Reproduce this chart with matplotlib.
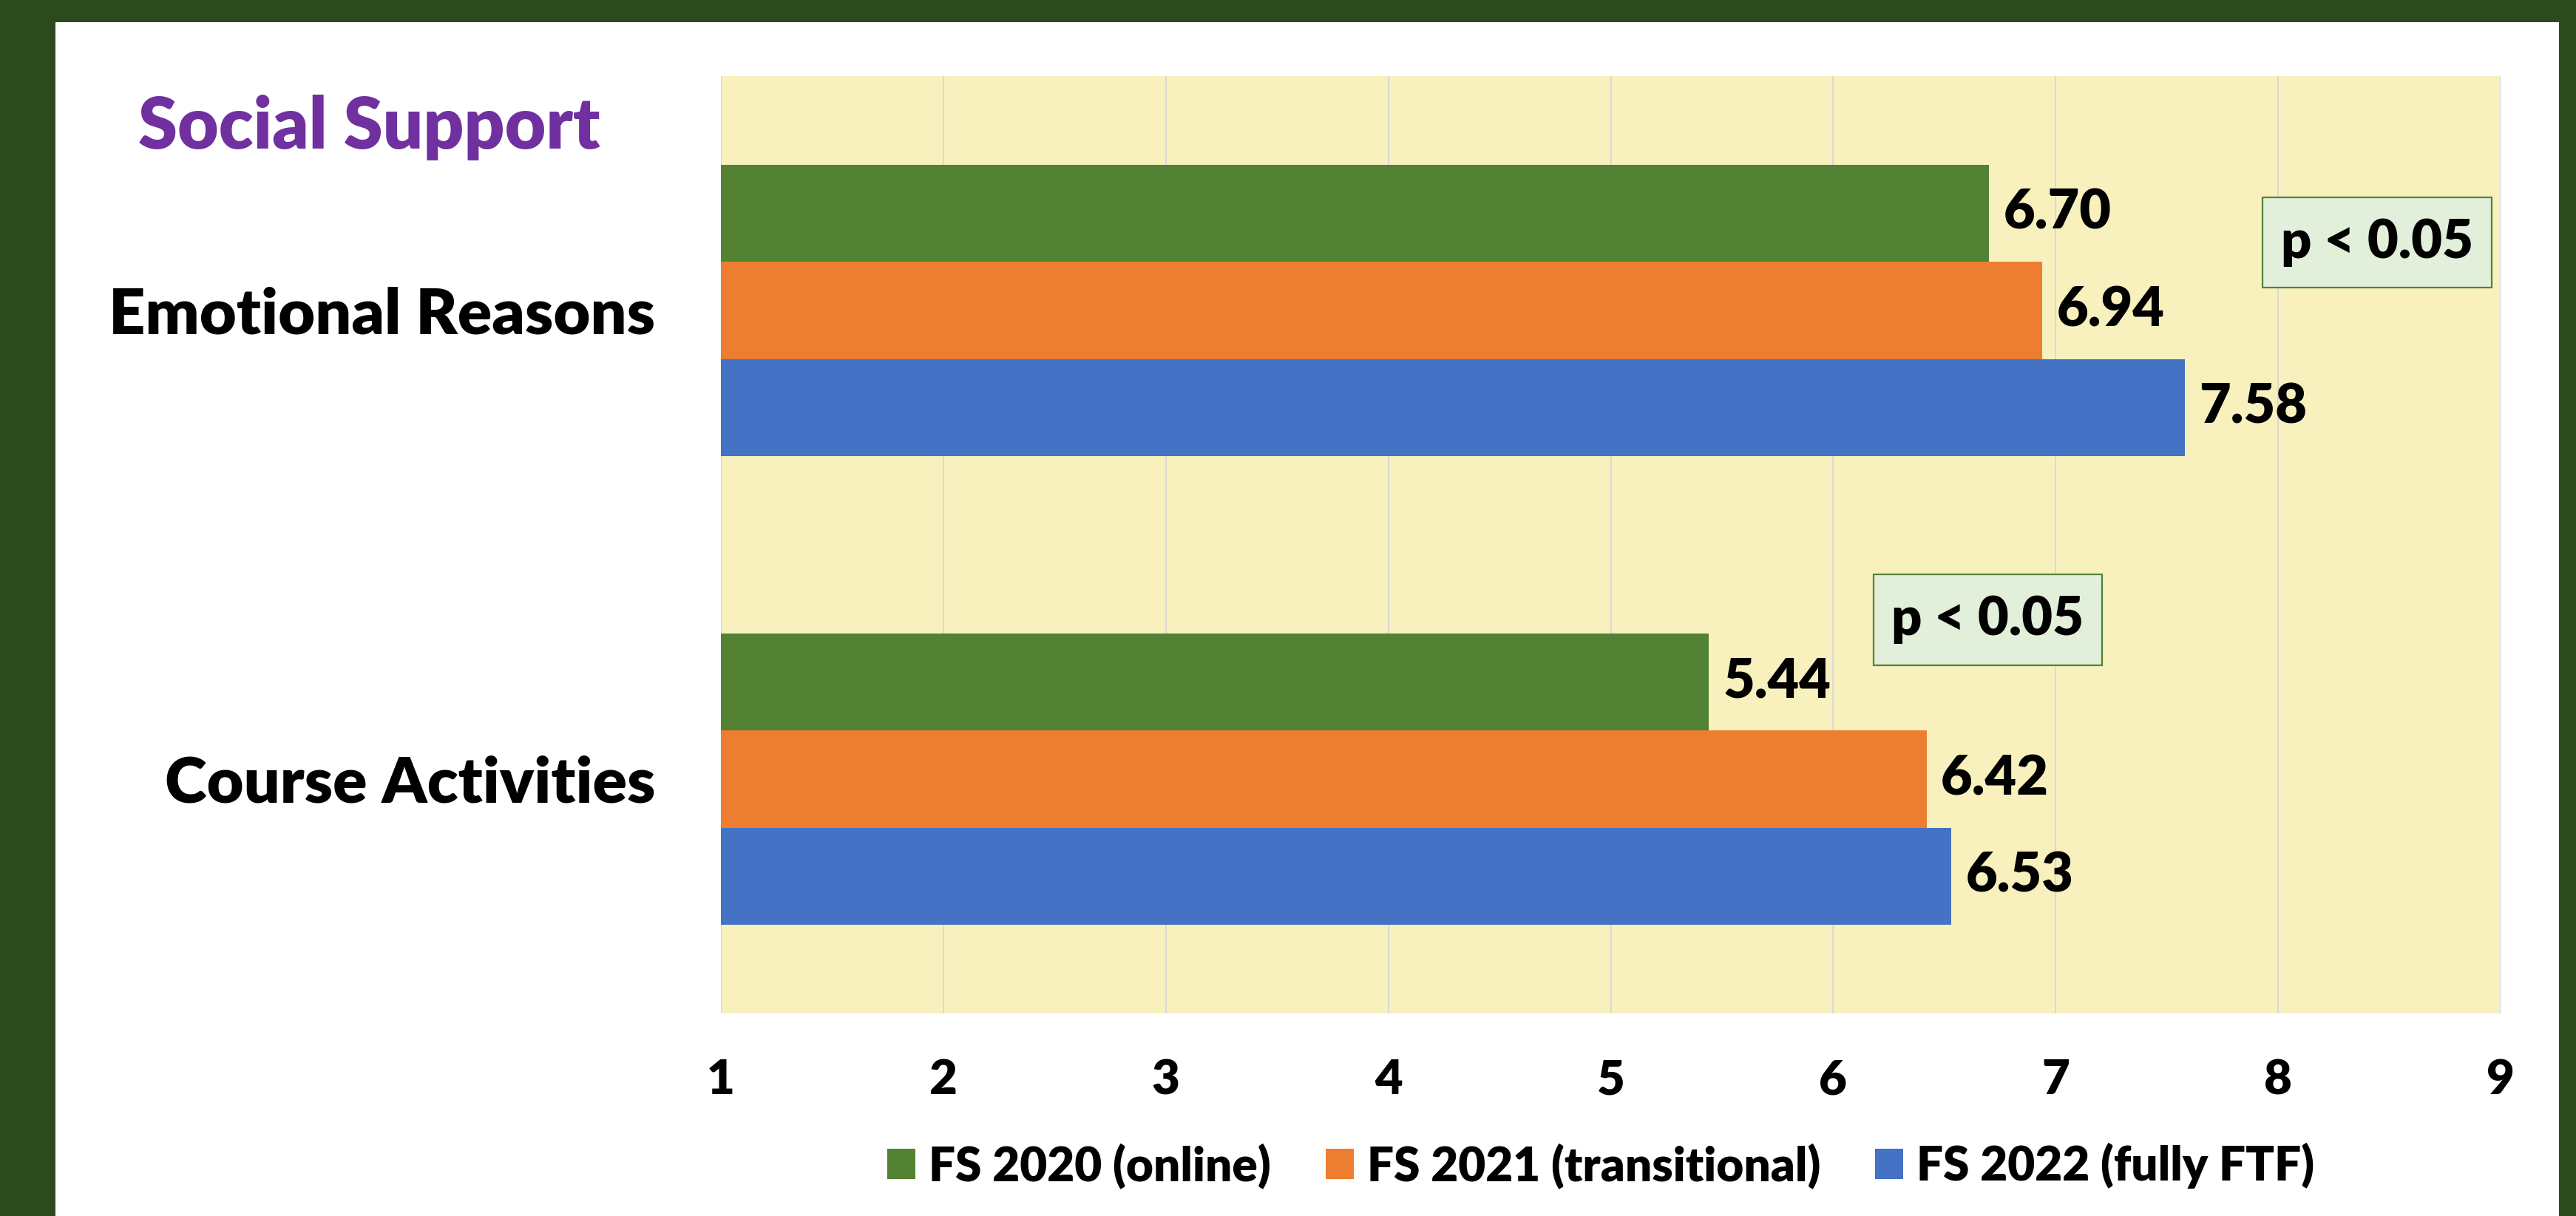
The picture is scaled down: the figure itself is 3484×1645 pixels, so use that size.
import numpy as np
import matplotlib
matplotlib.use('Agg')
import matplotlib.pyplot as plt
from matplotlib.patches import Rectangle

# data
categories = ['Emotional Reasons', 'Course Activities']
series_names = ['FS 2020 (online)', 'FS 2021 (transitional)', 'FS 2022 (fully FTF)']
fs2020 = [6.70, 5.44]
fs2021 = [6.94, 6.42]
fs2022 = [7.58, 6.53]
xticks = [1, 2, 3, 4, 5, 6, 7, 8, 9]
sig_labels = ['p < 0.05', 'p < 0.05']

colors = ['#548235', '#ED7D31', '#4472C4']
WEIGHT = 'heavy'
plt.rcParams['font.family'] = ['Lato', 'DejaVu Sans']
plt.rcParams['font.weight'] = WEIGHT

W, H = 3484, 1645
fig = plt.figure(figsize=(W / 100, H / 100), dpi=100, facecolor='#2D4A1F')
# white slide panel
fig.patches.append(Rectangle((75 / W, 0), (3461 - 75) / W, 1 - 30 / H,
                             transform=fig.transFigure, facecolor='white',
                             edgecolor='none', zorder=-10))

ax = fig.add_axes([975 / W, 1 - 1371 / H, (3382 - 975) / W, (1371 - 103) / H])
ax.set_zorder(2)
ax.set_facecolor('#F8F1BE')

y = np.arange(len(categories))
h = 0.207
for i, vals in enumerate([fs2020, fs2021, fs2022]):
    bars = ax.barh(y + (i - 1) * h, vals, height=h, left=0, color=colors[i],
                   label=series_names[i], zorder=3)
    ax.bar_label(bars, fmt='%.2f', padding=14, fontsize=53, fontweight=WEIGHT,
                 color='black')

ax.set_xlim(1, 9)
ax.set_ylim(1.5, -0.5)
ax.set_xticks(xticks)
ax.set_xticklabels([str(t) for t in xticks], fontsize=47, fontweight=WEIGHT)
ax.set_yticks(y)
ax.set_yticklabels(categories, fontsize=62, fontweight=WEIGHT)
ax.tick_params(axis='x', length=0, pad=44)
ax.tick_params(axis='y', length=0, pad=64)
ax.xaxis.grid(True, color='#D9D9D9', linewidth=1.5, zorder=1)
ax.set_axisbelow(True)
for s in ax.spines.values():
    s.set_visible(False)
ax.axvline(1, color='#D9D9D9', linewidth=1.5, zorder=1)
ax.axvline(9, color='#D9D9D9', linewidth=1.5, zorder=1)

# significance boxes
boxes = [(7.93, -0.241, 1.03, 0.192), (6.18, 0.563, 1.03, 0.194)]
for (bx, by, bw, bh), lab in zip(boxes, sig_labels):
    ax.add_patch(Rectangle((bx, by), bw, bh, facecolor='#E2EFDA',
                           edgecolor='#548235', linewidth=1.6, zorder=4))
    ax.text(bx + bw / 2, by + bh / 2, lab, ha='center', va='center',
            fontsize=52, fontweight=WEIGHT, zorder=5)

fig.text(187 / W, 1 - 201 / H, 'Social Support', color='#7030A0',
         fontsize=69, fontweight=WEIGHT, va='baseline', ha='left')

fig.legend(loc='center', bbox_to_anchor=(2165 / W, 1 - 1577 / H), ncol=3,
           frameon=False, prop={'size': 46, 'weight': WEIGHT},
           handlelength=0.6, handleheight=0.6, handletextpad=0.28,
           columnspacing=1.15)

fig.savefig('out.png', dpi=100, facecolor=fig.get_facecolor())
